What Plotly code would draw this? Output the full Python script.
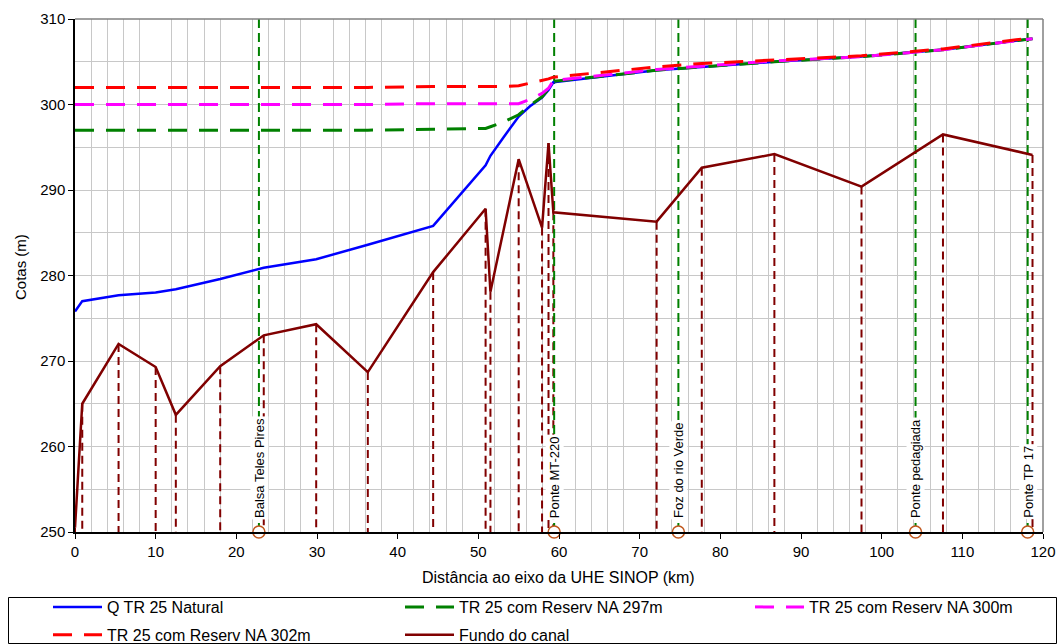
import plotly.graph_objects as go

# ---------------- data ----------------
stations_km = [0, 0.9, 5.4, 10, 12.5, 18, 23.4, 29.9, 36.3, 44.4, 50.9, 51.5, 53.0, 55.0,
               56.4, 57.9, 58.7, 59.3, 72.1, 77.7, 86.7, 97.5, 107.6, 118.7]
natural = [275.8, 277.0, 277.7, 278.0, 278.4, 279.6, 280.9, 281.9, 283.6, 285.8, 292.9, 294.0,
           296.0, 298.6, 299.8, 300.8, 301.7, 302.6, 304.0, 304.4, 305.0, 305.6, 306.4, 307.7]
na297 = [297.0, 297.0, 297.0, 297.0, 297.0, 297.0, 297.0, 297.0, 297.0, 297.1, 297.2, 297.4,
         297.9, 298.8, 299.9, 300.9, 301.8, 302.7, 304.0, 304.4, 305.0, 305.6, 306.4, 307.7]
na300 = [300.0, 300.0, 300.0, 300.0, 300.0, 300.0, 300.0, 300.0, 300.0, 300.1, 300.1, 300.1,
         300.1, 300.1, 300.6, 301.3, 301.9, 302.8, 304.1, 304.5, 305.1, 305.6, 306.4, 307.7]
na302 = [302.0, 302.0, 302.0, 302.0, 302.0, 302.0, 302.0, 302.0, 302.0, 302.1, 302.1, 302.1,
         302.1, 302.2, 302.5, 302.8, 303.0, 303.2, 304.4, 304.8, 305.2, 305.7, 306.5, 307.8]

sections_km = [0, 0.9, 5.4, 10, 12.5, 18, 23.4, 29.9, 36.3, 44.4, 50.9, 51.5, 55.0, 57.9,
               58.7, 59.3, 72.1, 77.7, 86.7, 97.5, 107.6, 118.7]
fundo = [250.5, 265.0, 272.0, 269.3, 263.7, 269.4, 273.0, 274.3, 268.7, 280.4, 287.8, 278.1,
         293.6, 285.6, 295.5, 287.4, 286.3, 292.6, 294.2, 290.4, 296.5, 294.1]

landmark_km = [22.8, 59.4, 74.8, 104.2, 118.1]
landmark_names = ["Balsa Teles Pires", "Ponte MT-220", "Foz do rio Verde", "Ponte pedagiada", "Ponte TP 17"]

series_names = ["Q TR 25 Natural", "TR 25 com Reserv NA 297m", "TR 25 com Reserv NA 300m",
                "TR 25 com Reserv NA 302m", "Fundo do canal"]

x_title = "Distância ao eixo da UHE SINOP (km)"
y_title = "Cotas (m)"

Y_MIN, Y_MAX = 250, 310
X_MIN, X_MAX = 0, 120

FONT = "Arial, Liberation Sans, sans-serif"
DARKRED = "#800000"
DASH = "19px,12px"

fig = go.Figure()

# vertical dashed section lines (from bed down to axis)
sx, sy = [], []
for x, z in zip(sections_km, fundo):
    sx += [x, x, None]
    sy += [z, Y_MIN, None]
fig.add_trace(go.Scatter(x=sx, y=sy, mode="lines", showlegend=False, hoverinfo="skip",
                         line=dict(color=DARKRED, width=2, dash="8px,5px")))

# landmark vertical lines
lx, ly = [], []
for x in landmark_km:
    lx += [x, x, None]
    ly += [Y_MIN, Y_MAX, None]
fig.add_trace(go.Scatter(x=lx, y=ly, mode="lines", showlegend=False, hoverinfo="skip",
                         line=dict(color="#008000", width=2, dash="9px,5px")))

# water profiles (legend columns: legend / legend2 / legend3)
fig.add_trace(go.Scatter(x=stations_km, y=natural, mode="lines", name=series_names[0],
                         legend="legend", legendgroup="a",
                         line=dict(color="#0000FF", width=2.5)))
fig.add_trace(go.Scatter(x=stations_km, y=na297, mode="lines", name=series_names[1],
                         legend="legend2", legendgroup="b",
                         line=dict(color="#008000", width=3, dash=DASH)))
fig.add_trace(go.Scatter(x=stations_km, y=na300, mode="lines", name=series_names[2],
                         legend="legend3", legendgroup="c",
                         line=dict(color="#FF00FF", width=3, dash=DASH)))
fig.add_trace(go.Scatter(x=stations_km, y=na302, mode="lines", name=series_names[3],
                         legend="legend", legendgroup="d",
                         line=dict(color="#FF0000", width=3, dash=DASH)))
fig.add_trace(go.Scatter(x=sections_km, y=fundo, mode="lines", name=series_names[4],
                         legend="legend2", legendgroup="e",
                         line=dict(color=DARKRED, width=2.5)))

# landmark circles
fig.add_trace(go.Scatter(x=landmark_km, y=[Y_MIN] * len(landmark_km), mode="markers",
                         showlegend=False, hoverinfo="skip", cliponaxis=False,
                         marker=dict(symbol="circle", size=12, color="white",
                                     line=dict(color="#C0561C", width=1.5))))

for x, name in zip(landmark_km, landmark_names):
    fig.add_annotation(x=x, y=Y_MIN, text=name, textangle=-90, showarrow=False,
                       xanchor="center", yanchor="bottom", yshift=12,
                       bgcolor="white", borderpad=1,
                       font=dict(family=FONT, size=13, color="black"))

# frame top/right (gray) and legend box
L, R, T, B = 75, 1043, 19, 532
W, H = R - L, B - T
def px(p):
    return (p - L) / W
def py(p):
    return (B - p) / H
fig.add_shape(type="line", xref="paper", yref="paper", x0=0, x1=1, y0=1, y1=1,
              line=dict(color="#808080", width=1.5))
fig.add_shape(type="line", xref="paper", yref="paper", x0=1, x1=1, y0=0, y1=1,
              line=dict(color="#808080", width=1.5))
fig.add_shape(type="rect", xref="paper", yref="paper", x0=px(8.5), x1=px(1056.5),
              y0=py(643.5), y1=py(597.5), line=dict(color="black", width=1))

# axis titles as annotations (stable positioning with fixed margins)
fig.add_annotation(xref="paper", yref="paper", x=px(20), y=py(267), text=y_title,
                   textangle=-90, showarrow=False, xanchor="center", yanchor="middle",
                   font=dict(family=FONT, size=15, color="black"))
fig.add_annotation(xref="paper", yref="paper", x=px(558), y=py(577), text=x_title,
                   showarrow=False, xanchor="center", yanchor="middle",
                   font=dict(family=FONT, size=16, color="black"))

def legend_col(xpix):
    return dict(orientation="v", xref="container", yref="container",
                x=xpix / 1058, y=1 - 590 / 644, xanchor="left", yanchor="top",
                itemwidth=49, bgcolor="rgba(0,0,0,0)", borderwidth=0, tracegroupgap=4,
                font=dict(family=FONT, size=16, color="black"))

fig.update_layout(
    width=1058, height=644,
    margin=dict(l=L, r=1058 - R, t=T, b=644 - B, autoexpand=False),
    paper_bgcolor="white", plot_bgcolor="white",
    font=dict(family=FONT, size=15, color="black"),
    xaxis=dict(range=[X_MIN, X_MAX], dtick=10, showgrid=False,
               minor=dict(dtick=2, showgrid=True, gridcolor="#C8C8C8", gridwidth=1),
               showline=True, linecolor="black", linewidth=1.5,
               ticks="outside", ticklen=5, tickcolor="black",
               tickfont=dict(size=15), zeroline=False),
    yaxis=dict(range=[Y_MIN, Y_MAX], dtick=10, showgrid=True, gridcolor="#C8C8C8",
               minor=dict(dtick=5, showgrid=True, gridcolor="#C8C8C8", gridwidth=1),
               showline=True, linecolor="black", linewidth=1.5,
               ticks="outside", ticklen=5, tickcolor="black",
               tickfont=dict(size=15), zeroline=False),
    legend=legend_col(48),
    legend2=legend_col(400),
    legend3=legend_col(750),
    showlegend=True,
)

fig.write_html("out.html")
